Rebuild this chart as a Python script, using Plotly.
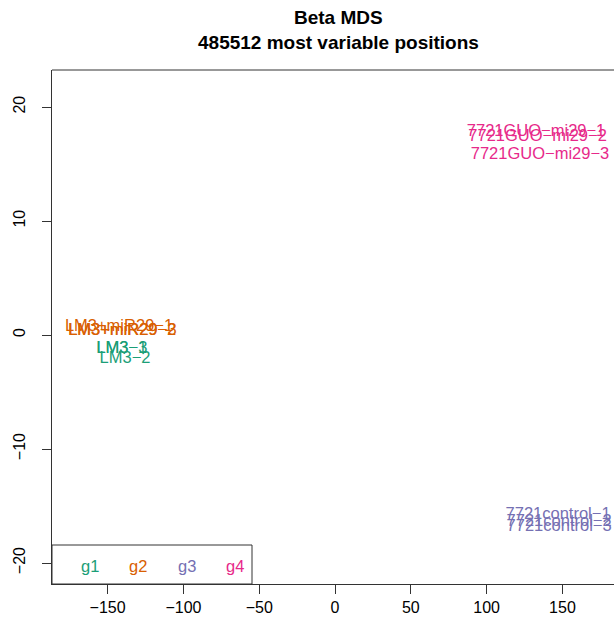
import plotly.graph_objects as go

# ---- data ----
groups = ["g1", "g2", "g3", "g4"]
group_colors = ["#1B9E77", "#D95F02", "#7570B3", "#E7298A"]

g1_labels = ["LM3\u22121", "LM3\u22122", "LM3\u22123"]
g1_x = [-140.7, -138.5, -140.6]
g1_y = [-1.20, -2.08, -1.25]

g2_labels = ["LM3+miR29\u22121", "LM3+miR29\u22122", "LM3+miR29\u22123"]
g2_x = [-142.5, -140.5, -140.2]
g2_y = [0.75, 0.36, 0.33]

g3_labels = ["7721control\u22121", "7721control\u22122", "7721control\u22123"]
g3_x = [147.1, 147.8, 147.8]
g3_y = [-15.8, -16.4, -16.85]

g4_labels = ["7721GUO\u2212mi29\u22121", "7721GUO\u2212mi29\u22122", "7721GUO\u2212mi29\u22123"]
g4_x = [132.6, 133.6, 135.2]
g4_y = [17.84, 17.34, 15.78]

x_ticks = [-150, -100, -50, 0, 50, 100, 150]
y_ticks = [-20, -10, 0, 10, 20]

title_line1 = "Beta MDS"
title_line2 = "485512 most variable positions"

# ---- layout constants ----
W, H = 614, 626
ML, MR, MT, MB = 52, 0, 70, 42
x_range = [-186.7, 184.0]
y_range = [-21.84, 23.25]
FONT = "Liberation Sans, Arial, Helvetica, sans-serif"
FS = 16
FS_LAB = 16.5
pw = W - ML - MR
ph = H - MT - MB


def px_x(px):
    return (px - ML) / pw


def px_y(py):
    return (H - MB - py) / ph


fig = go.Figure()
series = [(g1_labels, g1_x, g1_y), (g2_labels, g2_x, g2_y),
          (g3_labels, g3_x, g3_y), (g4_labels, g4_x, g4_y)]
for (labs, xs, ys), name, col in zip(series, groups, group_colors):
    fig.add_trace(go.Scatter(
        x=xs, y=ys, text=labs, mode="text", name=name,
        textposition="middle center",
        textfont=dict(family=FONT, size=FS_LAB, color=col),
        showlegend=False, hoverinfo="text"))

# legend box (bottom-left, inside plot)
fig.add_shape(type="rect", xref="paper", yref="paper",
              x0=0, x1=px_x(252), y0=0, y1=px_y(545),
              line=dict(color="#333333", width=1), fillcolor="white", layer="above")
legend_px = [90, 138, 187, 235]
for name, col, px in zip(groups, group_colors, legend_px):
    fig.add_annotation(xref="paper", yref="paper",
                       x=px_x(px), y=px_y(566),
                       text=name, showarrow=False,
                       font=dict(family=FONT, size=FS_LAB, color=col),
                       xanchor="center", yanchor="middle")

# top border
fig.add_shape(type="line", xref="paper", yref="paper", x0=0, x1=1.2, y0=1, y1=1,
              line=dict(color="#333333", width=1))

# title (two bold lines)
for txt, py in [(title_line1, 18), (title_line2, 43)]:
    fig.add_annotation(xref="paper", yref="paper", x=px_x(338), y=px_y(py),
                       text="<b>" + txt + "</b>", showarrow=False,
                       xanchor="center", yanchor="middle",
                       font=dict(family=FONT, size=19, color="black"))

fig.update_layout(
    width=W, height=H,
    margin=dict(l=ML, r=MR, t=MT, b=MB),
    paper_bgcolor="white", plot_bgcolor="white",
    font=dict(family=FONT, size=FS, color="black"),
    xaxis=dict(range=x_range, tickvals=x_ticks, ticks="outside", ticklen=9,
               tickcolor="#333333", showline=True, linecolor="#333333",
               showgrid=False, zeroline=False,
               tickfont=dict(family=FONT, size=FS, color="black")),
    yaxis=dict(range=y_range, tickvals=y_ticks, ticks="outside", ticklen=9,
               tickcolor="#333333", showline=True, linecolor="#333333",
               showgrid=False, zeroline=False, tickangle=-90,
               ticklabelstandoff=11,
               tickfont=dict(family=FONT, size=FS, color="black")),
)

fig.write_html("out.html")
